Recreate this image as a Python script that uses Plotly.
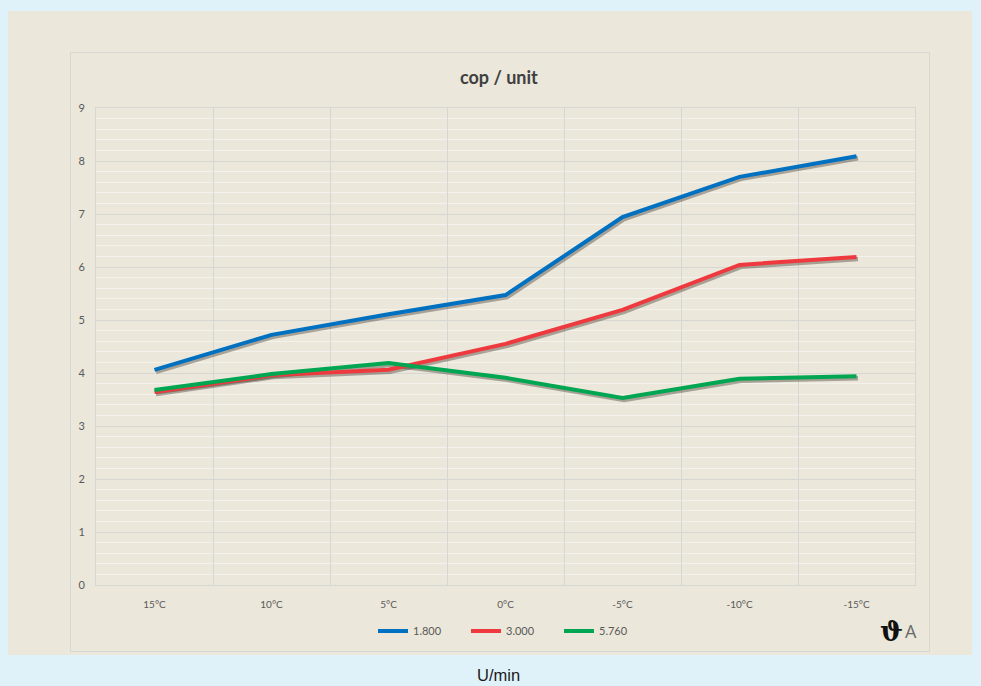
import plotly.graph_objects as go

categories = ["15°C", "10°C", "5°C", "0°C", "-5°C", "-10°C", "-15°C"]
series_names = ["1.800", "3.000", "5.760"]
s1800 = [4.06, 4.72, 5.11, 5.47, 6.94, 7.70, 8.09]
s3000 = [3.64, 3.96, 4.06, 4.55, 5.19, 6.04, 6.19]
s5760 = [3.68, 3.98, 4.19, 3.91, 3.53, 3.89, 3.94]
y_ticks = [0, 1, 2, 3, 4, 5, 6, 7, 8, 9]
colors = ["#0070c0", "#ee3a3e", "#00a651"]

W, H = 981, 686
L, R, T, B = 96, 915, 108, 585


def px(x):
    return (x - L) / (R - L)


def py(y):
    return (B - y) / (B - T)


FONT = "Lato, 'Open Sans', sans-serif"
fig = go.Figure()

# invisible trace to anchor the category axis
fig.add_trace(go.Scatter(x=categories, y=s1800, mode="lines", line=dict(width=0),
                         opacity=0, showlegend=False, hoverinfo="skip",
                         xaxis="x", yaxis="y"))

all_series = [s1800, s3000, s5760]
# shadows
for vals in all_series:
    fig.add_trace(go.Scatter(x=categories, y=vals, mode="lines",
                             line=dict(color="rgba(40,30,20,0.35)", width=4.5),
                             showlegend=False, hoverinfo="skip",
                             xaxis="x2", yaxis="y2"))
# main lines
for name, vals, c in zip(series_names, all_series, colors):
    fig.add_trace(go.Scatter(x=categories, y=vals, mode="lines", name=name,
                             line=dict(color=c, width=4),
                             xaxis="x3", yaxis="y3"))

dx = 1.5 / 117
dy = 2.0 / 53
xr = [-0.5, 6.5]
yr = [0, 9]

fig.update_layout(
    width=W, height=H,
    margin=dict(l=L, r=W - R, t=T, b=H - B, pad=0),
    paper_bgcolor="#dff2fa",
    plot_bgcolor="#ebe7da",
    font=dict(family=FONT, color="#595959", size=11),
    xaxis=dict(type="category", categoryorder="array", categoryarray=categories,
               range=xr, tickson="boundaries", showgrid=True, gridcolor="#d6d6d2",
               gridwidth=1, showline=True, linecolor="#d6d6d2", mirror=True,
               ticks="", tickfont=dict(size=10, color="#595959"), ticklabelstandoff=10,
               zeroline=False, fixedrange=True),
    yaxis=dict(range=yr, tickvals=y_ticks, showgrid=True, gridcolor="#d6d6d2",
               gridwidth=1, showline=True, linecolor="#d6d6d2", mirror=True,
               ticks="", tickfont=dict(size=11, color="#595959"), ticklabelstandoff=8,
               zeroline=False,
               minor=dict(dtick=0.2, showgrid=True, gridcolor="#f4f2ec", gridwidth=1)),
    xaxis2=dict(type="category", categoryorder="array", categoryarray=categories,
                range=[xr[0] - dx, xr[1] - dx], overlaying="x", visible=False),
    yaxis2=dict(range=[yr[0] + dy, yr[1] + dy], overlaying="y", visible=False),
    xaxis3=dict(type="category", categoryorder="array", categoryarray=categories,
                range=xr, overlaying="x", visible=False),
    yaxis3=dict(range=yr, overlaying="y", visible=False),
    legend=dict(orientation="h", x=px(373), y=py(631), xanchor="left", yanchor="middle",
                bgcolor="rgba(0,0,0,0)", font=dict(size=11, color="#595959"),
                entrywidth=48, entrywidthmode="pixels", itemwidth=30,
                tracegroupgap=0),
    showlegend=True,
)

shapes = [
    dict(type="rect", xref="paper", yref="paper", x0=px(8), x1=px(972), y0=py(655), y1=py(11),
         fillcolor="#ebe7da", line=dict(width=0), layer="below"),
    dict(type="rect", xref="paper", yref="paper", x0=px(70.5), x1=px(929.5), y0=py(651.5), y1=py(52.5),
         fillcolor="rgba(0,0,0,0)", line=dict(color="#d6d6d2", width=1), layer="below"),
]
fig.update_layout(shapes=shapes)

annotations = [
    dict(text="<b>cop / unit</b>", x=px(499), y=py(77), xref="paper", yref="paper",
         showarrow=False, font=dict(size=18, color="#404040", family=FONT),
         xanchor="center", yanchor="middle"),
    dict(text="<b>ϑ</b>", x=px(905), y=py(631), xref="paper", yref="paper",
         showarrow=False, font=dict(size=27, color="#111111", family="DejaVu Serif"),
         xanchor="right", yanchor="middle"),
    dict(text="A", x=px(903), y=py(631), xref="paper", yref="paper",
         showarrow=False, font=dict(size=18, color="#6a6a6a", family="'Open Sans', sans-serif"),
         xanchor="left", yanchor="middle"),
    dict(text="U/min", x=px(498), y=py(675), xref="paper", yref="paper",
         showarrow=False, font=dict(size=16.5, color="#1a1a1a", family="'Liberation Sans', Arial, sans-serif"),
         xanchor="center", yanchor="middle"),
]
fig.update_layout(annotations=annotations)

fig.write_html("out.html", config={"displayModeBar": False},
               post_script="document.body.style.margin='0';document.body.style.background='#dff2fa';")
